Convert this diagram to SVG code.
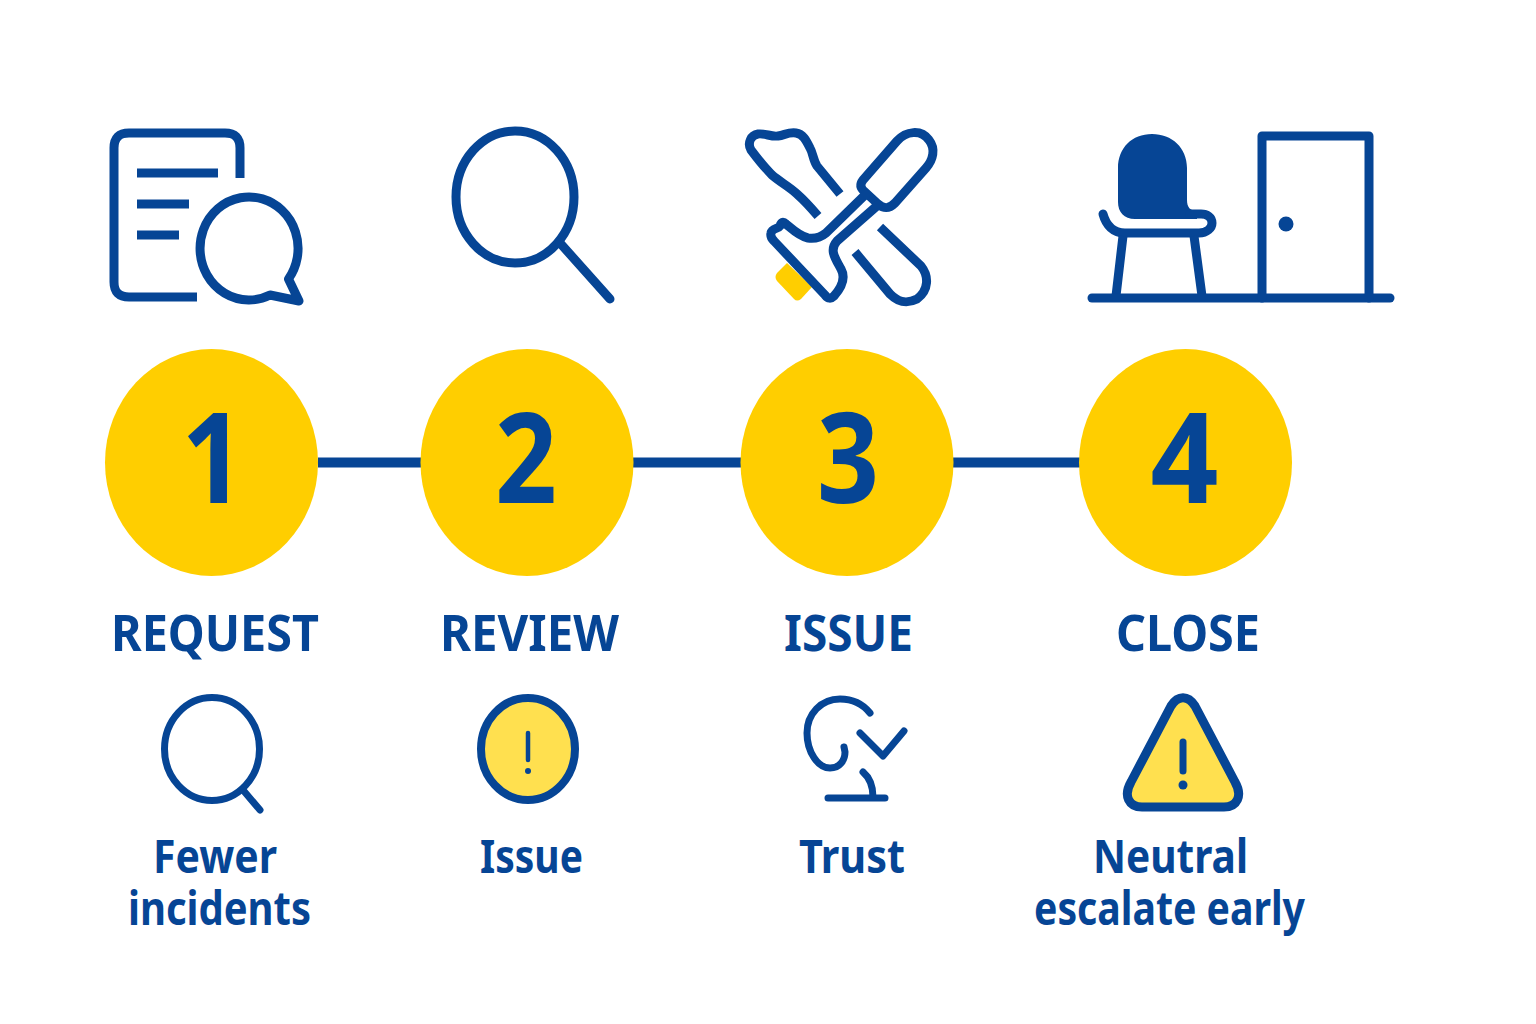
<svg xmlns="http://www.w3.org/2000/svg" width="1536" height="1024" viewBox="0 0 1536 1024">
<style>
.l{fill:none;stroke:#064595;stroke-width:9;stroke-linecap:round;stroke-linejoin:round}
.b{stroke-linecap:butt}
.s{stroke-width:7}
.t{font-family:"Noto Sans",sans-serif;font-weight:700;fill:#064595;text-anchor:start}
.n{font-size:126px}
.h{font-size:50px}
.c{font-size:46px}
.y{fill:#FFCE00}
.z{fill:#FFE04F}
</style>
<rect width="1536" height="1024" fill="#fff"/>
<g id="connectors"><path d="M318 462.5H1080" fill="none" stroke="#064595" stroke-width="10"/></g>
<g id="icon-request">
<path class="l b" d="M240 178V148Q240 133 225 133H129Q114 133 114 148V282Q114 297 129 297H197"/>
<path class="l b" d="M137 173H218M137 204H189M137 235H179"/>
<path class="l" d="M288.5 279A49 51.5 0 1 0 270 295L299 301Z"/>
</g>
<g id="icon-review">
<ellipse class="l" cx="515" cy="197" rx="59" ry="66"/>
<path class="l" d="M560 243L610 299"/>
</g>
<g id="icon-issue">
<path class="y" d="M787 263L777 273Q774 277 777 281L794 299Q797 302 801 299L812 287Z"/>
<path class="l b" d="M840 194L817 166C813 160 813 153 810 148C806 140 803 134 796 133C788 132 785 135 778 136C771 137 765 133 758 134C751 135 747 143 751 150C757 158 765 168 772 175C780 182 790 187 797 194C805 201 812 209 818 216"/>
<path class="l" d="M863 180L897 141C906 131 921 129 929 140C936 149 933 160 926 168L895 203C889 209 884 209 878 204L865 192C860 188 860 184 863 180Z"/>
<path class="l" d="M866 194L826 233C820 238 815 239 808 238C799 236 792 229 786 224C783 221 781 222 780 226C778 229 772 228 771 233C770 237 772 239 774 241L825 295C828 299 831 299 834 296C841 288 846 278 841 269C835 258 829 250 837 241L878 205"/>
<path class="l b" d="M880 227L921 266C929 276 929 290 917 299C905 305 897 301 890 294L855 252"/>
</g>
<g id="icon-close">
<path fill="#064595" d="M1118 168C1118 148 1132 134 1152 134C1172 134 1187 148 1187 168V200C1187 207 1190 211 1197 211L1197 219H1135C1124 219 1118 212 1118 202Z"/>
<path class="l" d="M1103 214C1106 225 1113 233 1125 233H1199C1207 233 1212 228 1212 223C1212 217 1207 214 1201 214H1190"/>
<path class="l b" d="M1123 236L1116 296M1194 236L1202 296"/>
<path class="l" d="M1092 298H1390"/>
<path class="l" d="M1262 298V136H1369V298"/>
<circle cx="1286" cy="224" r="7.5" fill="#064595"/>
</g>
<g id="step-1"><ellipse class="y" cx="211.5" cy="462.5" rx="106.5" ry="113.5"/><text class="t n" x="181.5" y="503" textLength="63" lengthAdjust="spacingAndGlyphs">1</text><text class="t h" x="111" y="651" textLength="208" lengthAdjust="spacingAndGlyphs">REQUEST</text></g>
<g id="step-2"><ellipse class="y" cx="527" cy="462.5" rx="106.5" ry="113.5"/><text class="t n" x="495" y="503" textLength="62" lengthAdjust="spacingAndGlyphs">2</text><text class="t h" x="440" y="651" textLength="179" lengthAdjust="spacingAndGlyphs">REVIEW</text></g>
<g id="step-3"><ellipse class="y" cx="847" cy="462.5" rx="106.5" ry="113.5"/><text class="t n" x="817" y="503" textLength="62" lengthAdjust="spacingAndGlyphs">3</text><text class="t h" x="784" y="651" textLength="129" lengthAdjust="spacingAndGlyphs">ISSUE</text></g>
<g id="step-4"><ellipse class="y" cx="1185.5" cy="462.5" rx="106.5" ry="113.5"/><text class="t n" x="1150.5" y="503" textLength="68" lengthAdjust="spacingAndGlyphs">4</text><text class="t h" x="1116" y="651" textLength="144" lengthAdjust="spacingAndGlyphs">CLOSE</text></g>
<g id="outcome-1">
<ellipse class="l s" cx="212" cy="749" rx="47.5" ry="51.5"/><path class="l s" d="M243 790L260 810"/>
<text class="t c"><tspan x="153" y="873" textLength="124" lengthAdjust="spacingAndGlyphs">Fewer</tspan><tspan x="128" y="925" textLength="183" lengthAdjust="spacingAndGlyphs">incidents</tspan></text>
</g>
<g id="outcome-2">
<ellipse class="z" cx="528" cy="749" rx="47" ry="51" stroke="#064595" stroke-width="8"/>
<path class="l" style="stroke-width:4.5" d="M528 733V760"/><circle cx="528" cy="771" r="3" fill="#064595"/>
<text class="t c" x="480" y="873" textLength="103" lengthAdjust="spacingAndGlyphs">Issue</text>
</g>
<g id="outcome-3">
<path class="l s" d="M870 713C862 703 851 699 840 699C821 699 807 714 807 733C807 752 818 768 830 768C840 768 845 760 845 752L844 747"/>
<path class="l s" d="M860 733L883 756L904 731"/>
<path class="l s" d="M863 772C870 778 873 786 873 797M828 798H885"/>
<text class="t c" x="799" y="873" textLength="106" lengthAdjust="spacingAndGlyphs">Trust</text>
</g>
<g id="outcome-4">
<path class="z" stroke="#064595" stroke-width="9" stroke-linejoin="round" d="M1171 706C1178 695 1188 695 1195 706L1235 782C1243 796 1237 807 1224 807H1142C1129 807 1123 796 1131 782Z"/>
<path class="l" style="stroke-width:7" d="M1183 742V771"/><circle cx="1183" cy="785" r="4.5" fill="#064595"/>
<text class="t c"><tspan x="1093" y="873" textLength="155" lengthAdjust="spacingAndGlyphs">Neutral</tspan><tspan x="1034" y="925" textLength="271" lengthAdjust="spacingAndGlyphs">escalate early</tspan></text>
</g>
</svg>
